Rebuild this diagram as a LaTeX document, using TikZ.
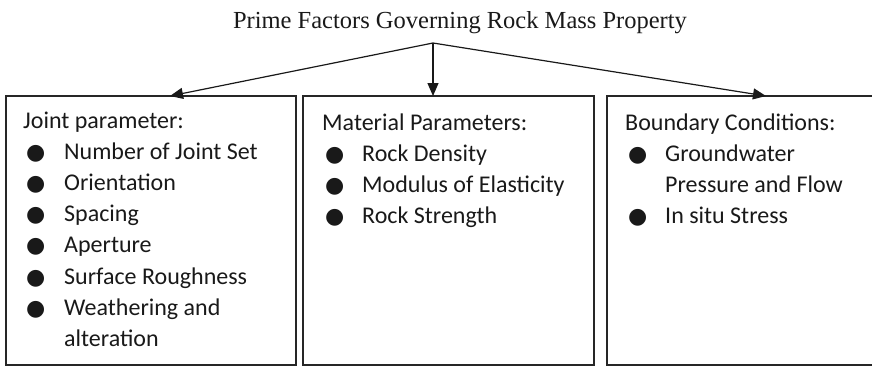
\documentclass[tikz,border=0pt]{standalone}
\usepackage{fontspec}
\setmainfont{Liberation Serif}
\newfontfamily\calibrifont{Carlito}
\newfontfamily\bulletfont{DejaVu Sans}
\usetikzlibrary{arrows.meta}

\tikzset{
  factorbox/.style={draw=black!85, line width=1.2pt, rectangle, inner sep=0pt,
    outer sep=0pt, anchor=north west, minimum height=269pt},
  boxtext/.style={anchor=north west, inner sep=0pt, text=black!90,
    font=\calibrifont\fontsize{24}{31.2}\selectfont},
  link/.style={line width=1.2pt, draw=black!90, -{Triangle[length=13pt,width=11pt]}}
}
\newcommand{\bul}{\hspace*{3pt}{\bulletfont\fontsize{22}{22}\selectfont ●}}

\begin{document}
\begin{tikzpicture}[x=1pt,y=-1pt]
    \useasboundingbox (0,0) rectangle (872,367);

    % Title and branching point
    \node[font=\fontsize{24.5}{28}\selectfont, anchor=base, text=black!90] (title) at (460,28)
        {Prime Factors Governing Rock Mass Property};
    \coordinate (apex) at (433,43);

    % Boxes
    \node[factorbox, minimum width=290pt] (jointbox) at (6,96) {};
    \node[factorbox, minimum width=291pt] (matbox) at (303,96) {};
    \node[factorbox, minimum width=300pt] (bndbox) at (607,96) {};

    % Box contents
    \node[boxtext] (jointtext) at ([xshift=17pt,yshift=-10pt]jointbox.north west) {%
        \begin{tabular}{@{}p{41pt}@{}l@{}}
        \multicolumn{2}{@{}l@{}}{Joint parameter:}\\
        \bul & Number of Joint Set\\
        \bul & Orientation\\
        \bul & Spacing\\
        \bul & Aperture\\
        \bul & Surface Roughness\\
        \bul & Weathering and\\
             & alteration
        \end{tabular}};
    \node[boxtext] (mattext) at ([xshift=19pt,yshift=-12pt]matbox.north west) {%
        \begin{tabular}{@{}p{40pt}@{}l@{}}
        \multicolumn{2}{@{}l@{}}{Material Parameters:}\\
        \bul & Rock Density\\
        \bul & Modulus of Elasticity\\
        \bul & Rock Strength
        \end{tabular}};
    \node[boxtext] (bndtext) at ([xshift=18pt,yshift=-12pt]bndbox.north west) {%
        \begin{tabular}{@{}p{40pt}@{}l@{}}
        \multicolumn{2}{@{}l@{}}{Boundary Conditions:}\\
        \bul & Groundwater\\
             & Pressure and Flow\\
        \bul & In situ Stress
        \end{tabular}};

    % Arrows
    \draw[link] (apex) -- (jointbox.north -| 170,0);
    \draw[link] (apex) -- (matbox.north -| 433,0);
    \draw[link] (apex) -- (bndbox.north -| 766,0);
\end{tikzpicture}
\end{document}
